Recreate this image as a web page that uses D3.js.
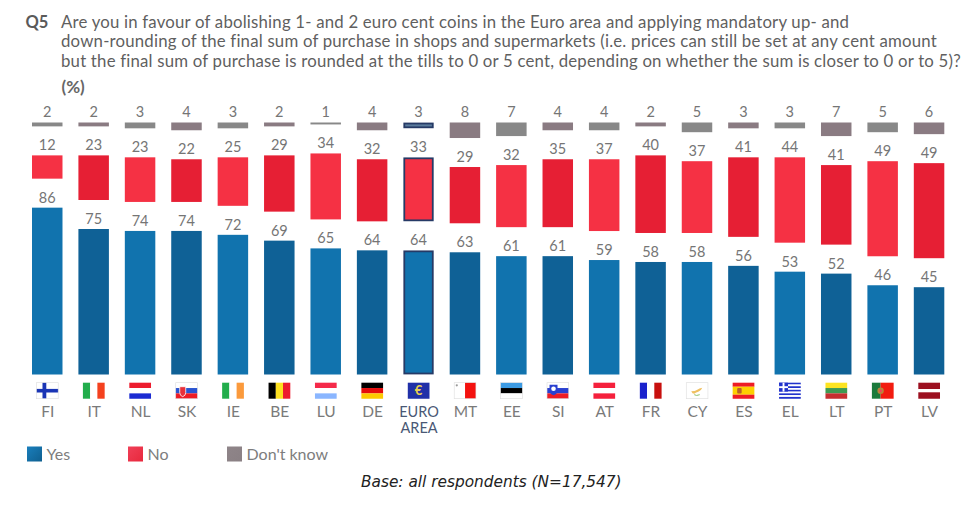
<!DOCTYPE html>
<html><head><meta charset="utf-8">
<script src="https://cdn.jsdelivr.net/npm/d3@7/dist/d3.min.js"></script>
<style>html,body{margin:0;padding:0;background:#fff}svg{display:block}</style>
</head><body><svg id="c" width="980" height="509"></svg>
<script>
const countries = ["FI","IT","NL","SK","IE","BE","LU","DE","EURO AREA","MT","EE","SI","AT","FR","CY","ES","EL","LT","PT","LV"];
const yesValues = [86,75,74,74,72,69,65,64,64,63,61,61,59,58,58,56,53,52,46,45];
const noValues  = [12,23,23,22,25,29,34,32,33,29,32,35,37,40,37,41,44,41,49,49];
const dkValues  = [2,2,3,4,3,2,1,4,3,8,7,4,4,2,5,3,3,7,5,6];
const legendLabels = ["Yes","No","Don't know"];
const titleLines = [
 "Are you in favour of abolishing 1- and 2 euro cent coins in the Euro area and applying mandatory up- and",
 "down-rounding of the final sum of purchase in shops and supermarkets (i.e. prices can still be set at any cent amount",
 "but the final sum of purchase is rounded at the tills to 0 or 5 cent, depending on whether the sum is closer to 0 or to 5)?"
];
const FONT = "Lato,'Noto Sans',sans-serif";
const svg = d3.select("#c").style("font-family", FONT);

const x = d3.scaleBand().domain(countries).range([32, 944.3]).paddingInner(0.343);
const len = d3.scaleLinear().domain([0,100]).range([0,194]);
const base = 374.5, gap = 29;
const pal = {
  yes:[["#1173ae"],["#0f6196"]],
  no:[["#f53144"],["#e61f34"]],
  dk:[["#888888"],["#8a7b82"]]
};
const rows = countries.map((c,i)=>({c,i,yes:yesValues[i],no:noValues[i],dk:dkValues[i]}));
const EA = "EURO AREA", NAVY = "#263a66";

function addSegment(cls, getTop, getH, labelY, colorKey){
  const g = svg.append("g").attr("class",cls);
  g.selectAll("rect").data(rows).join("rect")
    .attr("x",d=>x(d.c)+(d.c===EA?1:0))
    .attr("width",d=>x.bandwidth()-(d.c===EA?2:0))
    .attr("y",d=>getTop(d)+(d.c===EA?1:0))
    .attr("height",d=>getH(d)-(d.c===EA?2:0))
    .attr("fill",d=>d.c===EA&&cls==="dk"?"#5b7c9d":pal[colorKey][d.i%2][0])
    .attr("stroke",d=>d.c===EA?NAVY:"none")
    .attr("stroke-width",d=>d.c===EA?1.8:0);
  g.selectAll("text").data(rows).join("text")
    .attr("x",d=>x(d.c)+x.bandwidth()/2)
    .attr("y",labelY)
    .attr("text-anchor","middle")
    .attr("font-size",14.5)
    .attr("fill","#757575")
    .text(d=>d[colorKey]);
}
const yesTop = d=>base-len(d.yes);
const noTop  = d=>base-len(d.yes)-gap-len(d.no);
const dkTop  = d=>noTop(d)-gap-len(d.dk);
addSegment("yes", yesTop, d=>len(d.yes), d=>yesTop(d)-5, "yes");
addSegment("no", noTop, d=>len(d.no), d=>noTop(d)-5.5, "no");
addSegment("dk", d=>122.5, d=>Math.max(1.5,dkTop(d)+len(d.dk)-122.5), 117, "dk");

// title
svg.append("text").attr("x",25.5).attr("y",28).attr("font-size",16.5).attr("font-weight",700).attr("fill","#5a5a5a").text("Q5");
svg.append("g").selectAll("text").data(titleLines).join("text")
  .attr("x",61).attr("y",(d,i)=>28+i*19.4)
  .attr("font-size",16.8).attr("letter-spacing",0.2).attr("fill","#5f5f5f").text(d=>d);
svg.append("text").attr("x",61.5).attr("y",93).attr("font-size",17).attr("font-weight",700).attr("fill","#666").text("(%)");

// flags: each drawn in a 22x16 box
const W=21.7,H=16;
function stripes(g,dir,cols,weights){
  const w = weights||cols.map(()=>1);
  const t = d3.sum(w); let o=0;
  cols.forEach((c,i)=>{
    const f=w[i]/t;
    if(dir==="h") g.append("rect").attr("x",0).attr("y",o*H).attr("width",W).attr("height",f*H+.05).attr("fill",c);
    else g.append("rect").attr("x",o*W).attr("y",0).attr("width",f*W+.05).attr("height",H).attr("fill",c);
    o+=f;
  });
}
function box(g){g.append("rect").attr("width",W).attr("height",H).attr("fill","none").attr("stroke","#ddd").attr("stroke-width",.6);}
const flagDraw = {
 FI:g=>{stripes(g,"h",["#fff"]);g.append("rect").attr("x",6).attr("y",0).attr("width",3.8).attr("height",H).attr("fill","#1a35b5");g.append("rect").attr("x",0).attr("y",6.2).attr("width",W).attr("height",3.6).attr("fill","#1a35b5");box(g);},
 IT:g=>stripes(g,"v",["#22ad4c","#fff","#f4411e"]),
 NL:g=>stripes(g,"h",["#ed1c2e","#fff","#1b2bd2"]),
 SK:g=>{stripes(g,"h",["#fff","#2a54d0","#ee1c25"]);g.append("path").attr("d","M4 4h6v6q0 3-3 4q-3-1-3-4z").attr("fill","#e8303a").attr("stroke","#fff").attr("stroke-width",.8);box(g);},
 IE:g=>stripes(g,"v",["#22ad4c","#fff","#fb9a3c"]),
 BE:g=>stripes(g,"v",["#000","#fde020","#ed1c2e"]),
 LU:g=>stripes(g,"h",["#f52a4a","#fff","#8ab6ff"]),
 DE:g=>stripes(g,"h",["#000","#e50d0d","#fdc900"]),
 "EURO AREA":g=>{stripes(g,"h",["#2030a8"]);g.append("text").attr("x",W/2).attr("y",12.7).attr("text-anchor","middle").attr("font-size",13).attr("font-weight",700).attr("fill","#e8cf50").text("€");},
 MT:g=>{stripes(g,"v",["#fff","#f4120f"]);g.append("circle").attr("cx",2.6).attr("cy",2.6).attr("r",1.1).attr("fill","#999");box(g);},
 EE:g=>{stripes(g,"h",["#3d9be3","#000","#fff"]);box(g);},
 SI:g=>{stripes(g,"h",["#fff","#2a40d0","#ee1c25"]);g.append("path").attr("d","M2.5 2h8v6q0 3-4 4.5q-4-1.5-4-4.5z").attr("fill","#2a40d0");g.append("circle").attr("cx",6.5).attr("cy",6).attr("r",2.3).attr("fill","#fff");box(g);},
 AT:g=>stripes(g,"h",["#f5203c","#fff","#f5203c"]),
 FR:g=>stripes(g,"v",["#1a22cc","#fff","#c8100e"]),
 CY:g=>{stripes(g,"h",["#fff"]);g.append("path").attr("d","M5 8.5q4 0 6-1.5t5-2q-1 3-4 4t-4 2q-2 0-3-2.5z").attr("fill","#f0c060");g.append("path").attr("d","M8 12q2 1.5 5.5 0").attr("fill","none").attr("stroke","#8ec26a").attr("stroke-width",1);box(g);},
 ES:g=>{stripes(g,"h",["#ee1c25","#fdd000","#ee1c25"],[1,2,1]);g.append("rect").attr("x",4.5).attr("y",5.2).attr("width",4.5).attr("height",5.6).attr("rx",1).attr("fill","#b8622a");},
 EL:g=>{stripes(g,"h",["#2233cc","#fff","#2233cc","#fff","#2233cc","#fff","#2233cc","#fff","#2233cc"]);g.append("rect").attr("width",8.9).attr("height",8.9).attr("fill","#2233cc");g.append("rect").attr("x",3.5).attr("width",1.9).attr("height",8.9).attr("fill","#fff");g.append("rect").attr("y",3.5).attr("width",8.9).attr("height",1.9).attr("fill","#fff");},
 LT:g=>stripes(g,"h",["#fde421","#3f9a52","#c62f30"]),
 PT:g=>{stripes(g,"v",["#1c7a3c","#f21c10"],[2,3]);g.append("circle").attr("cx",8.7).attr("cy",8).attr("r",3.2).attr("fill","#b8863a");g.append("circle").attr("cx",8.7).attr("cy",8).attr("r",1.5).attr("fill","#e8505a");},
 LV:g=>stripes(g,"h",["#9c1020","#fff","#9c1020"],[2,1,2])
};
svg.append("g").selectAll("g").data(countries).join("g")
  .attr("transform",d=>`translate(${x(d)+x.bandwidth()/2-W/2+.1},382.7)`)
  .each(function(d){flagDraw[d](d3.select(this));});

// category labels
svg.append("g").selectAll("text").data(countries).join("text")
  .attr("text-anchor","middle").attr("font-size",d=>d===EA?14.5:15.5)
  .attr("fill",d=>d===EA?"#4a5875":"#7a7a7a")
  .attr("transform",d=>`translate(${x(d)+x.bandwidth()/2+.5},417)`)
  .each(function(d){
    const parts=d.split(" "), t=d3.select(this);
    parts.forEach((p,i)=>t.append("tspan").attr("x",0).attr("y",i*15.8).text(p));
  });

// legend
const defs=svg.append("defs");
const legendGrad=[["#0f5f8f","#1a7fbd"],["#e8283c","#f04058"],["#8a8084","#8f8589"]];
legendGrad.forEach((c,i)=>{
  const g=defs.append("linearGradient").attr("id","lg"+i).attr("x1",0).attr("y1",0).attr("x2",1).attr("y2",1);
  g.append("stop").attr("offset",0).attr("stop-color",c[1]);
  g.append("stop").attr("offset",1).attr("stop-color",c[0]);
});
const legX=d3.scaleOrdinal().domain(legendLabels).range([27,128,227]);
const lg=svg.append("g").selectAll("g").data(legendLabels).join("g").attr("transform",d=>`translate(${legX(d)},446.5)`);
lg.append("rect").attr("width",15).attr("height",15).attr("fill",(d,i)=>`url(#lg${i})`);
lg.append("text").attr("x",19.5).attr("y",13).attr("font-size",16).attr("fill","#7d7d7d").text(d=>d);

svg.append("text").attr("x",361).attr("y",487).attr("font-size",15.35).attr("font-style","italic").attr("fill","#222").attr("font-family","'DejaVu Sans',sans-serif").text("Base: all respondents (N=17,547)");
</script></body></html>
